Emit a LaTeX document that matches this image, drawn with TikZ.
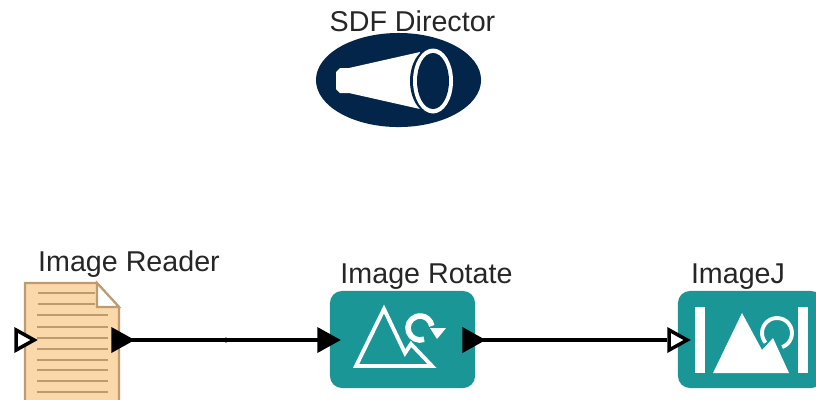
\documentclass[tikz,border=0pt]{standalone}
\usepackage{fontspec}
\setmainfont{Liberation Sans}
\usetikzlibrary{shapes.geometric}
\definecolor{navycol}{RGB}{3,37,74}
\definecolor{tealcol}{RGB}{26,150,150}
\definecolor{papercol}{RGB}{250,216,170}
\definecolor{rulecol}{RGB}{190,155,110}
\tikzset{every picture/.style={x=.01cm,y=-.01cm}}
\tikzset{actor/.style={rectangle,rounded corners=.12cm,fill=tealcol,minimum width=1.45cm,minimum height=.97cm,inner sep=0}}
\tikzset{inport/.style={isosceles triangle,isosceles triangle stretches,draw=black,fill=white,line width=1pt,inner sep=0,minimum width=.2cm,minimum height=.18cm}}
\tikzset{outport/.style={inport,fill=black}}
\tikzset{wire/.style={black,line width=1.2pt}}
\tikzset{annot/.style={font=\fontsize{8.15}{10}\selectfont,text=black!85}}
\tikzset{glyph/.style={white,line width=1.1pt}}
\begin{document}
\begin{tikzpicture}
\path [use as bounding box,clip] (0,0) rectangle (816,399);
% director
\node [ellipse,fill=navycol,minimum width=1.65cm,minimum height=.94cm,inner sep=0] (director) at (398.5,80) {};
\fill [white] (336,72) -- (340,68) -- (349,68) -- (420,52) -- (420,109) -- (349,93) -- (340,93) -- (336,89) -- cycle;
\fill [navycol] (433,81) ellipse (23 and 34);
\fill [white] (433,81) ellipse (20 and 32.5);
\fill [navycol] (433,81) ellipse (16 and 28);
\node [annot] (directorlabel) at (412.5,21) {SDF Director};
% image reader
\draw [fill=papercol,draw=rulecol,line width=.6pt] (25,283) -- (97,283) -- (119,307) -- (119,410) -- (25,410) -- cycle;
\draw [fill=white,draw=rulecol,line width=.6pt] (97,283) -- (119,307) -- (97,307) -- cycle;
\foreach \y in {293,304}
  \draw [rulecol,line width=.6pt] (38,\y) -- (95,\y);
\foreach \y in {315,327,338,349,360,370,381,392}
  \draw [rulecol,line width=.6pt] (37,\y) -- (108,\y);
\node [annot] (readerlabel) at (129,264) {Image Reader};
\node [inport] (readerin) at (22,340) {};
\node [outport] (readerout) at (119,340) {};
% image rotate
\node [actor] (rotate) at (402.5,339.5) {};
\draw [glyph,line join=miter] (356,366) -- (384,309) -- (405,353) -- (411,344) -- (432,366) -- cycle;
\draw [glyph,line width=1.6pt] (420,328) ++(70:12) arc (70:350:12);
\fill [white] (430,328) -- (446,328) -- (437,339) -- cycle;
\node [annot] (rotatelabel) at (426.5,277) {Image Rotate};
\node [outport] (rotatein) at (325,340) {};
\node [outport] (rotateout) at (470,340) {};
% imagej
\node [actor] (imagej) at (750.5,339.5) {};
\fill [white] (695,307) rectangle (705,373);
\fill [white] (798,307) rectangle (808,373);
\fill [white] (742,313) -- (762,350) -- (773,338) -- (789,373) -- (713,373) -- cycle;
\draw [glyph] (777,333) ++(140:15) arc (140:430:15);
\node [annot] (imagejlabel) at (738,277) {ImageJ};
\node [inport] (imagejin) at (675,340) {};
% connectors
\coordinate (bend) at (226,340);
\draw [wire] (readerout.center) -- (bend);
\draw [wire] (bend) -- (rotatein.center);
\fill (bend) circle (.025cm);
\draw [wire] (rotateout.center) -- (imagejin.lower side);
\end{tikzpicture}
\end{document}
